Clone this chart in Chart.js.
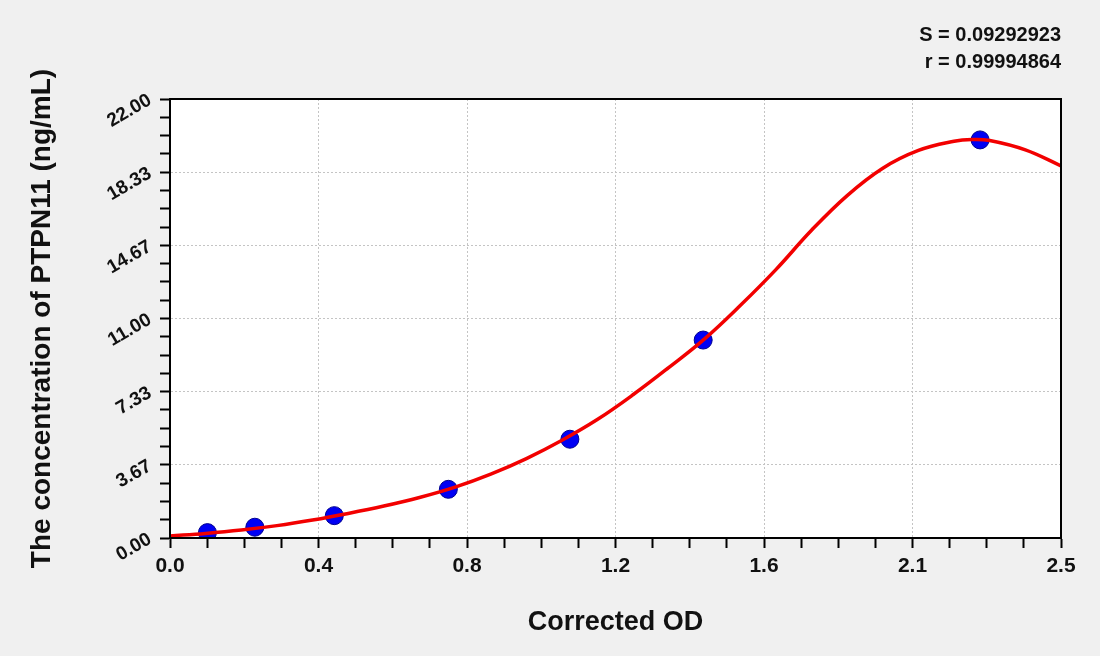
<!DOCTYPE html>
<html>
<head>
<meta charset="utf-8">
<title>PTPN11 standard curve</title>
<script src="https://cdn.jsdelivr.net/npm/chart.js@4/dist/chart.umd.min.js"></script>
<style>
  html, body { margin: 0; padding: 0; background: #f0f0f0; }
  #wrap { width: 1100px; height: 656px; position: relative; }
</style>
</head>
<body>
<div id="wrap"><canvas id="curve"></canvas></div>
<script>
// standards
const standardOD = [0.105, 0.238, 0.461, 0.781, 1.122, 1.496, 2.273];
const standardConc = [0.27, 0.54, 1.12, 2.44, 4.95, 9.92, 19.95];

// fitted curve
const curveOD = [0.0, 0.1, 0.2, 0.3, 0.4, 0.5, 0.6, 0.7, 0.8, 0.9, 1.0, 1.1, 1.2,
                 1.3, 1.4, 1.5, 1.6, 1.7, 1.8, 1.9, 2.0, 2.1, 2.2, 2.25, 2.3, 2.4, 2.5];
const curveConc = [0.10, 0.23, 0.40, 0.62, 0.90, 1.23, 1.60, 2.03, 2.55, 3.20, 3.98, 4.90, 5.95,
                   7.19, 8.55, 9.98, 11.65, 13.45, 15.42, 17.16, 18.53, 19.42, 19.88, 19.97, 19.92, 19.45, 18.65];

const xTickLabels = ['0.0', '0.4', '0.8', '1.2', '1.6', '2.1', '2.5'];
const yTickLabels = ['0.00', '3.67', '7.33', '11.00', '14.67', '18.33', '22.00'];
const statLines = ['S = 0.09292923', 'r = 0.99994864'];

const X_MAX = 2.5, Y_MAX = 22;
const SUB = 4; // minor divisions per major step
const FONT = '"Liberation Sans", Arial, sans-serif';

function makeTicks(max, labels) {
    const n = (labels.length - 1) * SUB;
    const out = [];
    for (let i = 0; i <= n; i++) out.push({ value: max * i / n });
    return out;
}

// white plot area + closed black frame
const frame = {
    id: 'frame',
    beforeDraw(chart) {
        const { ctx, chartArea: a } = chart;
        ctx.save();
        ctx.fillStyle = '#ffffff';
        ctx.fillRect(a.left, a.top, a.right - a.left, a.bottom - a.top);
        ctx.restore();
    },
    afterDraw(chart) {
        const { ctx, chartArea: a } = chart;
        ctx.save();
        ctx.strokeStyle = '#000000';
        ctx.lineWidth = 2;
        ctx.strokeRect(a.left, a.top, a.right - a.left, a.bottom - a.top);
        ctx.restore();
    }
};

const lineData = curveOD.map((x, i) => ({ x: x, y: curveConc[i] }));
const pointData = standardOD.map((x, i) => ({ x: x, y: standardConc[i] }));

new Chart(document.getElementById('curve'), {
    type: 'scatter',
    data: {
        datasets: [
            {
                label: 'fit',
                data: lineData,
                showLine: true,
                borderColor: '#f20000',
                borderWidth: 3.5,
                pointRadius: 0,
                tension: 0.4,
                fill: false
            },
            {
                label: 'standards',
                data: pointData,
                pointRadius: 9,
                pointBackgroundColor: '#0000f4',
                pointBorderColor: '#000090',
                pointBorderWidth: 1
            }
        ]
    },
    options: {
        responsive: true,
        maintainAspectRatio: false,
        animation: false,
        layout: { padding: { left: 0, right: 39, top: 0, bottom: 0 } },
        plugins: {
            legend: { display: false },
            tooltip: { enabled: false },
            title: {
                display: true,
                text: statLines,
                align: 'end',
                color: '#111111',
                font: { family: FONT, size: 20, weight: 'bold', lineHeight: 1.35 },
                padding: { top: 21.5, bottom: 23.5 }
            }
        },
        scales: {
            x: {
                type: 'linear',
                min: 0,
                max: X_MAX,
                afterBuildTicks: s => { s.ticks = makeTicks(X_MAX, xTickLabels); },
                afterFit: s => { s.height = 118; s.paddingLeft = 0; s.paddingRight = 0; },
                ticks: {
                    autoSkip: false,
                    maxRotation: 0,
                    padding: 6,
                    color: '#111111',
                    font: { family: FONT, size: 21, weight: 'bold' },
                    callback: (v, i) => (i % SUB === 0 ? xTickLabels[i / SUB] : '')
                },
                grid: {
                    color: c => (c.index % SUB === 0 ? '#c4c4c4' : 'rgba(0,0,0,0)'),
                    lineWidth: 1,
                    tickColor: '#000000',
                    tickLength: 10,
                    tickWidth: 2
                },
                border: { display: true, color: '#000000', width: 2, dash: [2, 2] },
                title: {
                    display: true,
                    text: 'Corrected OD',
                    color: '#111111',
                    font: { family: FONT, size: 27, weight: 'bold' },
                    padding: { top: 0, bottom: 17 }
                }
            },
            y: {
                type: 'linear',
                min: 0,
                max: Y_MAX,
                afterBuildTicks: s => { s.ticks = makeTicks(Y_MAX, yTickLabels); },
                afterFit: s => { s.width = 170; s.paddingTop = 0; s.paddingBottom = 0; },
                ticks: {
                    autoSkip: false,
                    minRotation: 30,
                    maxRotation: 30,
                    padding: 10,
                    color: '#111111',
                    font: { family: FONT, size: 19, weight: 'bold' },
                    callback: (v, i) => (i % SUB === 0 ? yTickLabels[i / SUB] : '')
                },
                grid: {
                    color: c => (c.index % SUB === 0 ? '#c4c4c4' : 'rgba(0,0,0,0)'),
                    lineWidth: 1,
                    tickColor: '#000000',
                    tickLength: 10,
                    tickWidth: 2
                },
                border: { display: true, color: '#000000', width: 2, dash: [2, 2] },
                title: {
                    display: true,
                    text: 'The concentration of PTPN11 (ng/mL)',
                    color: '#111111',
                    font: { family: FONT, size: 28, weight: 'bold' },
                    padding: { top: 25, bottom: 0 }
                }
            }
        }
    },
    plugins: [frame]
});
</script>
</body>
</html>
